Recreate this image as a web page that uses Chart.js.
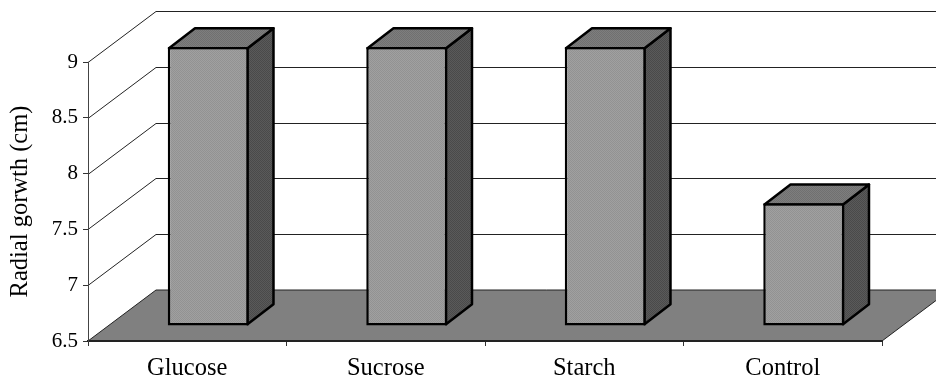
<!DOCTYPE html>
<html>
<head>
<meta charset="utf-8">
<style>
  body { margin: 0; background: #fff; }
  canvas { display: block; }
</style>
<script src="https://cdn.jsdelivr.net/npm/chart.js@4/dist/chart.umd.min.js"></script>
</head>
<body>
<canvas id="chart" width="936" height="379"></canvas>
<script>
const categories = ["Glucose", "Sucrose", "Starch", "Control"];
const growth = [9, 9, 9, 7.6];
const yTicks = [6.5, 7, 7.5, 8, 8.5, 9];
const yTitle = "Radial gorwth (cm)";

// depth of the fake 3d box: whole floor, and where the bars stand on it
const wallDx = 68, wallDy = -51;
const barDx = 21, barDy = -15, sideDx = 26, sideDy = -20;
const edge = 2.5;

function dither(a, b) {
    const c = document.createElement("canvas");
    c.width = c.height = 2;
    const g = c.getContext("2d");
    g.fillStyle = a;
    g.fillRect(0, 0, 2, 2);
    g.fillStyle = b;
    g.fillRect(0, 0, 1, 1);
    g.fillRect(1, 1, 1, 1);
    return g.createPattern(c, "repeat");
}

const frontFill = dither("#a0a0a0", "#929292");
const topFill = dither("#7e7e7e", "#707070");
const sideFill = dither("#5a5a5a", "#4a4a4a");

function face(ctx, pts, fill) {
    ctx.beginPath();
    pts.forEach((p, i) => i ? ctx.lineTo(p[0], p[1]) : ctx.moveTo(p[0], p[1]));
    ctx.closePath();
    ctx.fillStyle = fill;
    ctx.fill();
    ctx.stroke();
}

const box3d = {
    id: "box3d",
    // back wall lines and the floor
    beforeDraw(chart) {
        const { ctx, scales: { y }, chartArea: a } = chart;
        ctx.save();
        ctx.strokeStyle = "#222";
        ctx.lineWidth = 1;
        yTicks.slice(1).forEach(v => {
            const py = Math.round(y.getPixelForValue(v)) + 0.5;
            ctx.beginPath();
            ctx.moveTo(a.left, py);
            ctx.lineTo(a.left + wallDx, py + wallDy);
            ctx.lineTo(chart.width, py + wallDy);
            ctx.stroke();
        });
        const by = y.getPixelForValue(yTicks[0]);
        face(ctx, [
            [a.left, by],
            [a.left + wallDx, by + wallDy],
            [a.right + wallDx, by + wallDy],
            [a.right, by]
        ], "#808080");
        ctx.restore();
    },
    // bars are pushed back onto the floor, sides go on first
    beforeDatasetDraw(chart, args) {
        const ctx = chart.ctx;
        ctx.save();
        ctx.translate(barDx, barDy);
        ctx.strokeStyle = "#000";
        ctx.lineWidth = edge;
        ctx.lineJoin = "round";
        const m = edge / 2;
        args.meta.data.forEach(bar => {
            const l = bar.x - bar.width / 2 + m, r = bar.x + bar.width / 2 - m;
            const t = bar.y + m, b = bar.base - m;
            face(ctx, [[r, t], [r + sideDx, t + sideDy], [r + sideDx, b + sideDy], [r, b]], sideFill);
            face(ctx, [[l, t], [l + sideDx, t + sideDy], [r + sideDx, t + sideDy], [r, t]], topFill);
        });
    },
    afterDatasetDraw(chart) {
        chart.ctx.restore();
    }
};

const tickFont = { family: "'Liberation Serif'", size: 21 };
const labelFont = { family: "'Liberation Serif'", size: 24.5 };

new Chart(document.getElementById("chart"), {
    type: "bar",
    data: {
        labels: categories,
        datasets: [{
            data: growth,
            base: yTicks[0],
            backgroundColor: frontFill,
            borderColor: "#000",
            borderWidth: edge,
            borderSkipped: false,
            barPercentage: 0.408,
            categoryPercentage: 1,
            clip: false
        }]
    },
    options: {
        responsive: false,
        animation: false,
        layout: { padding: { top: 62, right: 54 } },
        plugins: { legend: { display: false }, title: { display: false }, tooltip: { enabled: false } },
        scales: {
            x: {
                afterFit(axis) { axis.height = 38; },
                grid: { drawOnChartArea: false, tickLength: 5, color: "#333" },
                border: { color: "#222", width: 2 },
                ticks: { color: "#000", font: labelFont, maxRotation: 0, padding: 8 }
            },
            y: {
                min: 6.5,
                max: 9,
                afterFit(axis) { axis.width = 88; },
                afterBuildTicks(axis) { axis.ticks = yTicks.map(v => ({ value: v })); },
                grid: { drawOnChartArea: false, tickLength: 5, color: "#333" },
                border: { color: "#444", width: 1 },
                ticks: { color: "#000", font: tickFont, padding: 5, callback: v => String(v) },
                title: { display: true, text: yTitle, color: "#000", font: labelFont, padding: { top: 6, bottom: 0 } }
            }
        }
    },
    plugins: [box3d]
});
</script>
</body>
</html>
